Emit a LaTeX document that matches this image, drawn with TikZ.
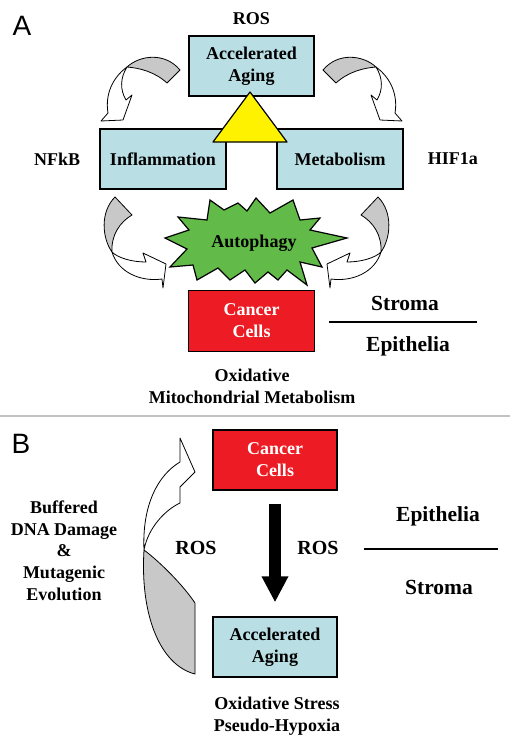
\documentclass[tikz,border=0pt]{standalone}
\usepackage{fontspec}
\setmainfont{Liberation Serif}
\newfontfamily\panelfont{Liberation Sans}
\usetikzlibrary{positioning, arrows.meta}
\definecolor{boxblue}{RGB}{185,222,228}
\definecolor{cellred}{RGB}{237,28,36}
\definecolor{autogreen}{RGB}{98,187,72}
\definecolor{triyellow}{RGB}{255,242,0}
\definecolor{bandgray}{RGB}{200,200,200}
\definecolor{rulegray}{RGB}{195,195,195}

\begin{document}
\begin{tikzpicture}[x=1pt, y=-1pt]
    \tikzstyle{box} = [draw, line width=1.4pt, minimum width=125pt, minimum height=60pt, inner sep=0pt, align=center, font=\fontsize{18}{22}\selectfont\bfseries];
    \tikzstyle{aging} = [box, fill=boxblue];
    \tikzstyle{redbox} = [box, fill=cellred, text=white];
    \tikzstyle{note} = [inner sep=0pt, anchor=base, align=center, font=\fontsize{18}{21.7}\selectfont\bfseries];
    \tikzstyle{tissue} = [note, font=\fontsize{21.5}{24}\selectfont\bfseries];
    \tikzstyle{panel} = [inner sep=0pt, anchor=base, font=\panelfont\fontsize{28}{28}\selectfont];
    \tikzstyle{band} = [draw, line width=0.8pt, line join=round];

    \useasboundingbox (0,0) rectangle (510,748);

    % panel A
    \node[panel] (pA) at (22,35) {A};
    \node[aging] (accA) at (251.5,66) {Accelerated\\Aging};
    \node[note, above = 10pt of accA] (rosA) {ROS};
    \node[aging, minimum width=126pt] (infl) at (163,159) {Inflammation};
    \node[aging, minimum width=126pt] (metab) at (340,159) {Metabolism};
    \node[note, left = 19pt of infl] (nfkb) {NFkB};
    \node[note, right = 24pt of metab] (hif) {HIF1a};

    \draw[fill=triyellow, line width=1.2pt, line join=round] (250,92) -- (287,142) -- (213,142) -- cycle;

    \draw[fill=autogreen, line width=1.2pt, line join=miter]
        (347,238) -- (312,248) -- (322,267) -- (300,262) -- (307,285) -- (287,270)
        -- (278,280) -- (268,272) -- (255,283) -- (245,270) -- (230,280) -- (218,268)
        -- (197,280) -- (193,265) -- (170,267) -- (187,249) -- (165,238) -- (189,230)
        -- (178,217) -- (207,220) -- (210,200) -- (224,210) -- (238,203) -- (247,211)
        -- (256,198) -- (270,213) -- (293,200) -- (300,220) -- (320,218) -- (310,230) -- cycle;
    \node[note] (auto) at (254,247) {Autophagy};

    \node[redbox, minimum width=126pt, minimum height=61pt] (cancerA) at (251.5,321) {Cancer\\Cells};
    \node[tissue] (stromaA) at (405,310) {Stroma};
    \node[tissue] (epiA) at (408,351) {Epithelia};
    \draw[line width=1.4pt] (329,322) -- (477,322);
    \node[note, anchor=center] (oxA) at (252,386.5) {Oxidative\\Mitochondrial Metabolism};

    % curved arrows, left and mirrored right
    \foreach \sx/\dx in {1/0, -1/503} {
        \begin{scope}[shift={(\dx,0)}, xscale=\sx]
            \draw[band, fill=white] (127,67) .. controls (112,78) and (105,95) .. (108,113)
                -- (101,121) -- (123,120) -- (132,95) -- (126,100)
                .. controls (120,90) and (120,78) .. (127,67) -- cycle;
            \draw[band, fill=bandgray] (127,67) .. controls (140,55) and (165,52) .. (180,70)
                -- (167,83) .. controls (155,72) and (140,68) .. (127,67) -- cycle;
        \end{scope}
    }
    \foreach \sx/\dx in {1/0, -1/493} {
        \begin{scope}[shift={(\dx,0)}, xscale=\sx]
            \draw[band, fill=bandgray] (115,197) -- (132,215)
                .. controls (120,222) and (111,235) .. (112,252)
                .. controls (102,238) and (100,212) .. (115,197) -- cycle;
            \draw[band, fill=white] (112,252) .. controls (118,272) and (140,282) .. (162,279)
                -- (163,288) -- (166,264) -- (143,253) -- (146,262)
                .. controls (132,262) and (118,258) .. (112,252) -- cycle;
        \end{scope}
    }

    \draw[rulegray, line width=1.5pt] (0,416) -- (510,416);

    % panel B
    \node[panel] (pB) at (21,453) {B};
    \node[redbox, minimum width=124pt] (cancerB) at (275,460) {Cancer\\Cells};
    \node[aging, minimum width=124pt] (accB) at (275,647) {Accelerated\\Aging};
    \draw[line width=12pt, -{Triangle[length=26pt, width=25pt]}, shorten <=13pt, shorten >=14pt] (cancerB) -- (accB);

    \draw[band, fill=bandgray] (195,603) -- (195,674)
        .. controls (160,665) and (140,615) .. (144,550)
        .. controls (160,562) and (183,585) .. (195,603) -- cycle;
    \draw[band, fill=white] (144,550) .. controls (142,505) and (158,475) .. (180,462)
        -- (180,438) -- (195,472) -- (180,487) -- (180,503)
        .. controls (165,510) and (148,528) .. (144,550) -- cycle;

    \node[note, font=\fontsize{20}{24}\selectfont\bfseries] (rosL) at (196,554) {ROS};
    \node[note, font=\fontsize{20}{24}\selectfont\bfseries] (rosR) at (318,554) {ROS};
    \node[note, anchor=center] (dna) at (64,550.5) {Buffered\\DNA Damage\\\&\\Mutagenic\\Evolution};
    \node[tissue] (epiB) at (438,521) {Epithelia};
    \node[tissue] (stromaB) at (439,594) {Stroma};
    \draw[line width=1.4pt] (364,549) -- (498,549);
    \node[note, anchor=center] (oxB) at (277,716) {Oxidative Stress\\Pseudo-Hypoxia};
\end{tikzpicture}
\end{document}
